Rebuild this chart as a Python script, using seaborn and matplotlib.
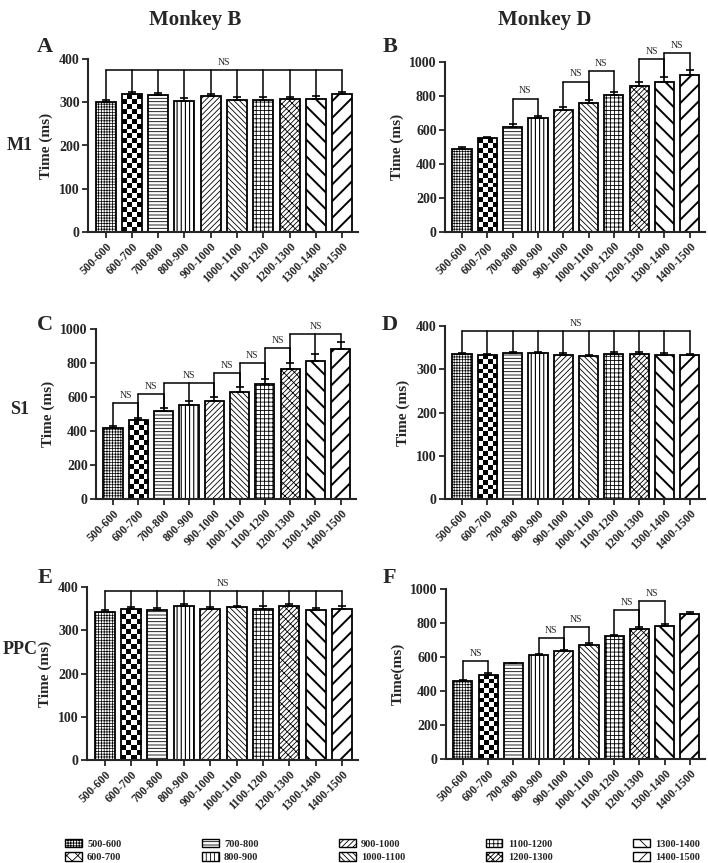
import matplotlib
matplotlib.use('Agg')
import matplotlib.pyplot as plt
import matplotlib.patches as mpatches
import seaborn as sns
import numpy as np

# interval bins (ms)
bins = ['500-600', '600-700', '700-800', '800-900', '900-1000',
        '1000-1100', '1100-1200', '1200-1300', '1300-1400', '1400-1500']
hatches = ['++++++', 'checker', '-----', '||||', '//////',
           '\\\\\\\\\\\\', '++++', '////xxx', '\\\\', '//']
hatch_lw = [0.5, 0.6, 0.6, 0.8, 0.6, 0.6, 0.6, 0.6, 1.4, 1.4]

# M1
m1_b = [300, 318, 317, 304, 315, 306, 305, 308, 307, 318]
m1_b_err = [6, 6, 5, 6, 5, 5, 6, 5, 7, 6]
m1_d = [490, 550, 620, 668, 718, 758, 806, 858, 882, 922]
m1_d_err = [10, 10, 15, 15, 17, 20, 20, 25, 28, 30]
# S1
s1_b = [415, 462, 515, 555, 575, 632, 675, 765, 810, 882]
s1_b_err = [15, 15, 18, 22, 25, 28, 32, 35, 45, 40]
s1_d = [335, 333, 337, 337, 334, 330, 336, 336, 334, 333]
s1_d_err = [2, 2, 3, 3, 4, 3, 3, 3, 3, 3]
# PPC
ppc_b = [342, 348, 346, 355, 348, 353, 350, 355, 346, 350]
ppc_b_err = [5, 6, 5, 5, 5, 4, 5, 5, 5, 5]
ppc_d = [458, 495, 562, 610, 633, 670, 722, 765, 782, 852]
ppc_d_err = [5, 8, 5, 8, 8, 10, 10, 12, 15, 12]

# NS brackets: (first bar, last bar, height)
m1_b_ns = [(0, 9, 375)]
m1_d_ns = [(2, 3, 785), (4, 5, 885), (5, 6, 947), (7, 8, 1020), (8, 9, 1055)]
s1_b_ns = [(0, 1, 565), (1, 2, 620), (2, 4, 682), (4, 5, 743), (5, 6, 798),
           (6, 7, 886), (7, 9, 968)]
s1_d_ns = [(0, 9, 388)]
ppc_b_ns = [(0, 9, 391)]
ppc_d_ns = [(0, 1, 575), (3, 4, 712), (4, 5, 776), (6, 7, 875), (7, 8, 927)]

sns.set_style('ticks')
plt.rcParams['font.family'] = ['Liberation Serif', 'DejaVu Serif']
plt.rcParams['hatch.linewidth'] = 0.6

W, H = 708, 863
fig = plt.figure(figsize=(W / 100, H / 100), dpi=100)


def px_axes(x0, x1, y0, y1):
    return fig.add_axes([x0 / W, 1 - y1 / H, (x1 - x0) / W, (y1 - y0) / H])


def set_hatch(p, h, lw):
    if h == 'checker':
        return
    p.set_hatch(h)
    if hasattr(p, 'set_hatch_linewidth'):
        p.set_hatch_linewidth(lw)


def checker_fill(ax, p, ncols=4):
    # checkerboard texture clipped to a bar
    bb = p.get_window_extent()
    nrows = max(1, int(round(bb.height / (bb.width / ncols))))
    board = np.add.outer(np.arange(nrows), np.arange(ncols)) % 2
    x0, w, h = p.get_x(), p.get_width(), p.get_height()
    im = ax.imshow(board, cmap='gray', extent=(x0, x0 + w, 0, h), origin='lower',
                   aspect='auto', interpolation='nearest', zorder=0.5)
    im.set_clip_path(p)
    p.set_facecolor('none')


def draw_panel(ax, vals, errs, ymax, step, brackets, ylabel):
    sns.barplot(x=bins, y=vals, color='white', saturation=1, edgecolor='black',
                linewidth=1.3, width=0.76, errorbar=None, ax=ax)
    ax.set_xlim(-0.67, 9.6)
    ax.set_ylim(0, ymax)
    for p, h, lw in zip(ax.patches, hatches, hatch_lw):
        set_hatch(p, h, lw)
    for p, h in zip(list(ax.patches), hatches):
        if h == 'checker':
            checker_fill(ax, p)
    idx = np.arange(len(vals))
    ax.errorbar(idx, vals, yerr=[np.zeros(len(errs)), errs], fmt='none',
                ecolor='black', elinewidth=1.2, capsize=3, capthick=1.2)
    for i0, i1, y in brackets:
        ax.plot([i0, i1], [y, y], color='black', lw=1.1, clip_on=False)
        for i in range(i0, i1 + 1):
            ax.plot([i, i], [vals[i] + errs[i], y], color='black', lw=1.1, clip_on=False)
        ax.text((i0 + i1) / 2, y + 0.018 * ymax, 'NS', ha='center', va='bottom',
                fontsize=7, clip_on=False)
    ax.set_xlim(-0.67, 9.6)
    ax.set_ylim(0, ymax)
    ax.set_yticks(np.arange(0, ymax + 1, step))
    ax.set_xticks(idx)
    ax.set_xticklabels(bins, rotation=45, ha='right', rotation_mode='anchor',
                       fontsize=8.5, fontweight='bold')
    for t in ax.get_yticklabels():
        t.set_fontweight('bold')
        t.set_fontsize(10)
    ax.set_ylabel(ylabel, fontsize=11, fontweight='bold', labelpad=4)
    ax.set_xlabel('')
    sns.despine(ax=ax)
    for s in ['left', 'bottom']:
        ax.spines[s].set_linewidth(1.5)
    ax.tick_params(direction='out', length=4, width=1.3, pad=2)


axA = px_axes(88, 358, 59, 232)
draw_panel(axA, m1_b, m1_b_err, 400, 100, m1_b_ns, 'Time (ms)')
axB = px_axes(445, 705, 62, 232)
draw_panel(axB, m1_d, m1_d_err, 1000, 200, m1_d_ns, 'Time (ms)')
axC = px_axes(96, 356, 329, 499)
draw_panel(axC, s1_b, s1_b_err, 1000, 200, s1_b_ns, 'Time (ms)')
axD = px_axes(445, 705, 326, 499)
draw_panel(axD, s1_d, s1_d_err, 400, 100, s1_d_ns, 'Time (ms)')
axE = px_axes(87, 358, 587, 760)
draw_panel(axE, ppc_b, ppc_b_err, 400, 100, ppc_b_ns, 'Time (ms)')
axF = px_axes(446, 705, 589, 759)
draw_panel(axF, ppc_d, ppc_d_err, 1000, 200, ppc_d_ns, 'Time(ms)')

# headers, panel letters, row labels
fig.text(195 / W, 1 - 20 / H, 'Monkey B', ha='center', va='center', fontsize=15, fontweight='bold')
fig.text(545 / W, 1 - 20 / H, 'Monkey D', ha='center', va='center', fontsize=15, fontweight='bold')
for lab, x, y in [('A', 45, 47), ('B', 390, 47), ('C', 45, 325), ('D', 390, 325),
                  ('E', 45, 578), ('F', 389, 578)]:
    fig.text(x / W, 1 - y / H, lab, ha='center', va='center', fontsize=16, fontweight='bold')
for lab, x, y in [('M1', 20, 146), ('S1', 20, 409), ('PPC', 20, 649)]:
    fig.text(x / W, 1 - y / H, lab, ha='center', va='center', fontsize=13, fontweight='bold')

leg_hatches = [h if h != 'checker' else 'XXX' for h in hatches]
handles = [mpatches.Patch(facecolor='white', edgecolor='black', hatch=h, label=b)
           for b, h in zip(bins, leg_hatches)]
fig.legend(handles=handles, ncol=5, loc='lower left', frameon=False,
           bbox_to_anchor=(60 / W, -4 / H, 645 / W, 30 / H), mode='expand',
           prop={'size': 7.5, 'weight': 'bold'}, handlelength=1.6, handleheight=0.9,
           labelspacing=0.3, handletextpad=0.5, borderaxespad=0.1)

fig.savefig('out.png', dpi=100)
